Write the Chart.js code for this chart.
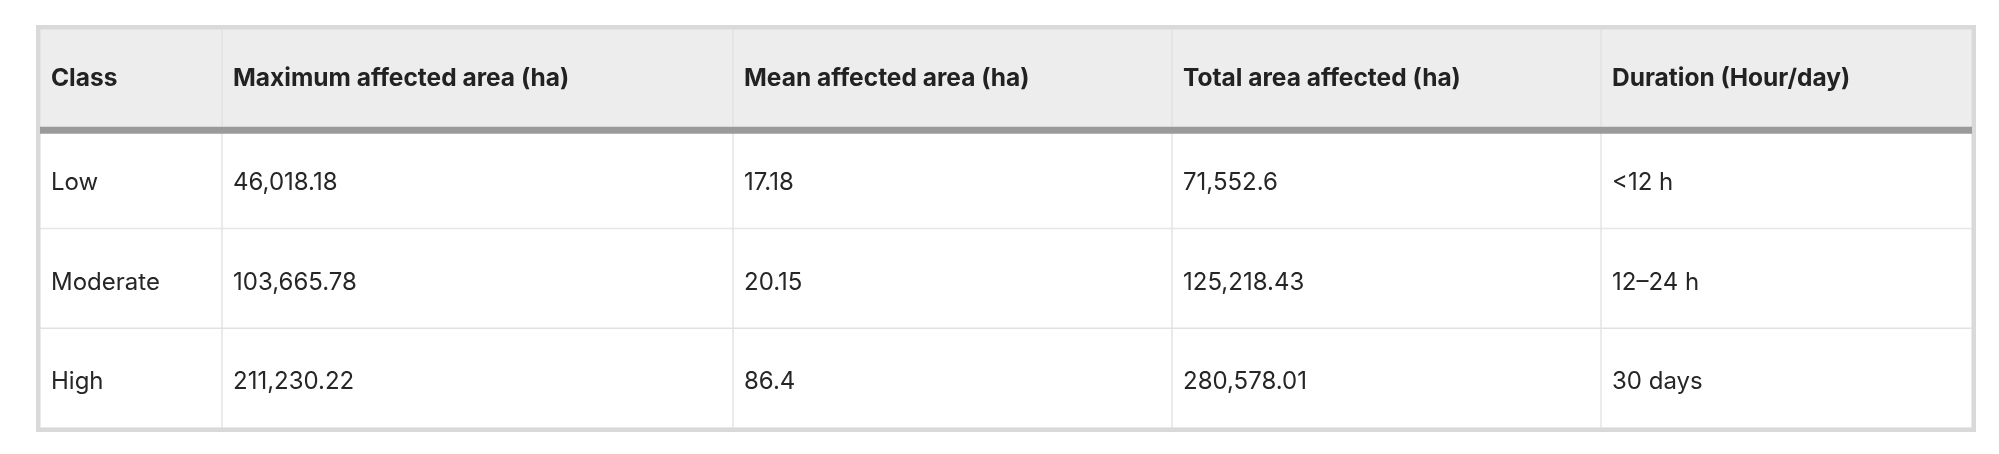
<!DOCTYPE html>
<html>
<head>
<meta charset="utf-8">
<title>Affected area by class</title>
<script src="https://cdn.jsdelivr.net/npm/chart.js@4.4.1/dist/chart.umd.min.js"></script>
<style>
  html, body { margin: 0; padding: 0; background: #fff; }
  #wrap { width: 1999px; height: 454px; }
</style>
</head>
<body>
<div id="wrap"><canvas id="tableChart"></canvas></div>
<script>
// table content
var headers = ["Class", "Maximum affected area (ha)", "Mean affected area (ha)", "Total area affected (ha)", "Duration (Hour/day)"];
var classes = ["Low", "Moderate", "High"];
var maxArea = [46018.18, 103665.78, 211230.22];
var meanArea = [17.18, 20.15, 86.4];
var totalArea = [71552.6, 125218.43, 280578.01];
var duration = ["<12 h", "12\u201324 h", "30 days"];

// layout (pixel-ish widths of the columns)
var colWidths = [182, 511, 439, 429, 371];

function fmt(v){
  return v.toLocaleString('en-US', { maximumFractionDigits: 2 });
}

var columns = [
  classes,
  maxArea.map(fmt),
  meanArea.map(fmt),
  totalArea.map(fmt),
  duration
];

var rowLabels = ["header"].concat(classes);

var edges = [0];
colWidths.forEach(function(w, i){ edges.push(edges[i] + w); });

var datasets = headers.map(function(h, c){
  return {
    label: h,
    data: rowLabels.map(function(){ return [edges[c], edges[c + 1]]; }),
    cellText: [h].concat(columns[c]),
    backgroundColor: rowLabels.map(function(r, i){ return i === 0 ? "#ededed" : "#ffffff"; }),
    borderColor: "#e1e1e1",
    borderWidth: 1,
    borderSkipped: false,
    grouped: false,
    categoryPercentage: 1,
    barPercentage: 1
  };
});

var tablePlugin = {
  id: 'tablePlugin',
  afterDatasetsDraw: function(chart){
    var ctx = chart.ctx;
    var area = chart.chartArea;
    var y = chart.scales.y;
    ctx.save();

    // thick rule under the header
    var half = (y.getPixelForValue(1) - y.getPixelForValue(0)) / 2;
    var hb = y.getPixelForValue(0) + half;
    ctx.fillStyle = "#9a9a9a";
    ctx.fillRect(area.left, hb - 2, area.right - area.left, 7);

    // outer frame
    ctx.strokeStyle = "#d9d9d9";
    ctx.lineWidth = 4;
    ctx.strokeRect(area.left - 2, area.top - 2, area.right - area.left + 4, area.bottom - area.top + 4);

    // cell texts
    ctx.textAlign = 'left';
    ctx.textBaseline = 'middle';
    chart.data.datasets.forEach(function(ds, di){
      var meta = chart.getDatasetMeta(di);
      meta.data.forEach(function(bar, ri){
        var left = Math.min(bar.x, bar.base);
        if (ri === 0) {
          ctx.font = "bold 24.5px Inter, 'Noto Sans', sans-serif";
          ctx.fillStyle = "#222";
          ctx.fillText(ds.cellText[ri], left + 11, bar.y);
        } else {
          ctx.font = "24px Inter, 'Noto Sans', sans-serif";
          ctx.fillStyle = "#262626";
          ctx.fillText(ds.cellText[ri], left + 11, bar.y + 4);
        }
      });
    });
    ctx.restore();
  }
};

var tableChart = new Chart(document.getElementById('tableChart'), {
  type: 'bar',
  data: {
    labels: rowLabels,
    datasets: datasets
  },
  options: {
    indexAxis: 'y',
    responsive: true,
    maintainAspectRatio: false,
    animation: false,
    layout: { padding: { left: 40, right: 27, top: 29, bottom: 26 } },
    scales: {
      x: { display: false, min: 0, max: edges[edges.length - 1] },
      y: { display: false }
    },
    plugins: {
      legend: { display: false },
      tooltip: { enabled: false }
    }
  },
  plugins: [tablePlugin]
});
</script>
</body>
</html>
